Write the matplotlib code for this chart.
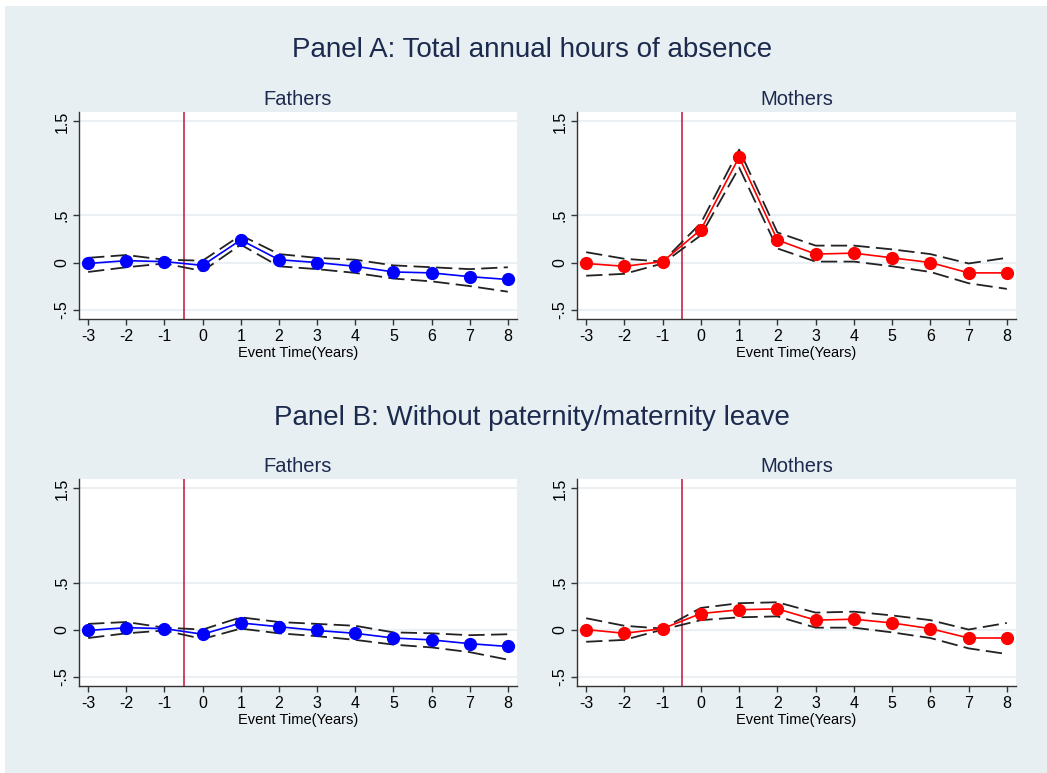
import matplotlib.pyplot as plt
from matplotlib.patches import Rectangle

# event time
years = [-3, -2, -1, 0, 1, 2, 3, 4, 5, 6, 7, 8]

# Panel A - total annual hours of absence
a_fath = [-0.01, 0.02, 0.01, -0.03, 0.24, 0.03, 0.00, -0.04, -0.10, -0.11, -0.15, -0.18]
a_fath_hi = [0.05, 0.08, 0.03, 0.02, 0.29, 0.09, 0.05, 0.03, -0.03, -0.05, -0.07, -0.05]
a_fath_lo = [-0.10, -0.05, -0.01, -0.09, 0.19, -0.04, -0.07, -0.11, -0.17, -0.20, -0.25, -0.31]

a_moth = [-0.01, -0.04, 0.01, 0.35, 1.12, 0.24, 0.09, 0.10, 0.05, 0.00, -0.11, -0.11]
a_moth_hi = [0.11, 0.04, 0.01, 0.42, 1.20, 0.32, 0.18, 0.18, 0.14, 0.09, -0.01, 0.05]
a_moth_lo = [-0.14, -0.12, -0.01, 0.29, 1.01, 0.15, 0.01, 0.01, -0.04, -0.10, -0.22, -0.28]

# Panel B - without paternity/maternity leave
b_fath = [-0.01, 0.02, 0.01, -0.05, 0.07, 0.03, -0.01, -0.04, -0.09, -0.11, -0.15, -0.18]
b_fath_hi = [0.06, 0.08, 0.02, 0.00, 0.13, 0.08, 0.06, 0.04, -0.03, -0.04, -0.06, -0.05]
b_fath_lo = [-0.09, -0.04, -0.01, -0.10, 0.01, -0.04, -0.07, -0.11, -0.16, -0.19, -0.24, -0.32]

b_moth = [0.00, -0.04, 0.01, 0.17, 0.21, 0.22, 0.10, 0.11, 0.07, 0.01, -0.09, -0.09]
b_moth_hi = [0.12, 0.04, 0.01, 0.23, 0.28, 0.29, 0.18, 0.19, 0.15, 0.10, 0.00, 0.07]
b_moth_lo = [-0.13, -0.11, 0.00, 0.10, 0.13, 0.14, 0.02, 0.02, -0.03, -0.09, -0.20, -0.26]

ytick_vals = [-0.5, 0, 0.5, 1.5]
ytick_labels = ['-.5', '0', '.5', '1.5']

plt.rcParams['font.family'] = ['Liberation Sans', 'DejaVu Sans']

bg = '#e8eff2'
navy = '#1c2a4e'


def panel(ax, est, hi, lo, col, title):
    ax.set_facecolor('white')
    for yv in ytick_vals:
        ax.axhline(yv, color='#eaf0f3', lw=1.5, zorder=0)
    ax.axvline(-0.5, color='#c4123c', lw=1.1, zorder=1)
    ax.plot(years, hi, color='#222222', lw=1.3, ls=(0, (9, 3.5)), zorder=2)
    ax.plot(years, lo, color='#222222', lw=1.3, ls=(0, (9, 3.5)), zorder=2)
    ax.plot(years, est, color=col, lw=1.2, marker='o', ms=8.5, zorder=3)
    ax.set_xlim(-3.24, 8.24)
    ax.set_ylim(-0.6, 1.6)
    ax.set_xticks(years)
    ax.set_xticklabels([str(y) for y in years], fontsize=11.5)
    ax.set_yticks(ytick_vals)
    ax.set_yticklabels(ytick_labels, fontsize=11.5, rotation=90, va='center')
    ax.set_xlabel('Event Time(Years)', fontsize=10.5, labelpad=1.5)
    ax.set_title(title, fontsize=14.5, color=navy, pad=5)
    ax.spines['top'].set_visible(False)
    ax.spines['right'].set_visible(False)
    for s in ('left', 'bottom'):
        ax.spines[s].set_color('#333333')
        ax.spines[s].set_linewidth(1.0)
    ax.tick_params(direction='out', length=4, width=1, color='#333333', pad=3)


fig = plt.figure(figsize=(10.47, 7.73), dpi=100, facecolor='white')
fig.patches.append(Rectangle((5 / 1047, 0), 1, 1 - 6 / 773, transform=fig.transFigure,
                             facecolor=bg, edgecolor='none', zorder=-10))

W, H = 1047, 773
boxes = [(79, 112, 517, 319), (577, 112, 1016, 319),
         (79, 479, 517, 686), (577, 479, 1016, 686)]
axs = [fig.add_axes([l / W, 1 - b / H, (r - l) / W, (b - t) / H]) for l, t, r, b in boxes]

panel(axs[0], a_fath, a_fath_hi, a_fath_lo, '#0000ff', 'Fathers')
panel(axs[1], a_moth, a_moth_hi, a_moth_lo, '#ff0000', 'Mothers')
panel(axs[2], b_fath, b_fath_hi, b_fath_lo, '#0000ff', 'Fathers')
panel(axs[3], b_moth, b_moth_hi, b_moth_lo, '#ff0000', 'Mothers')

fig.text(532 / W, 1 - 50 / H, 'Panel A: Total annual hours of absence', fontsize=20,
         color=navy, ha='center', va='center')
fig.text(532 / W, 1 - 418 / H, 'Panel B: Without paternity/maternity leave', fontsize=20,
         color=navy, ha='center', va='center')

fig.savefig('out.png', dpi=100, facecolor='white')
